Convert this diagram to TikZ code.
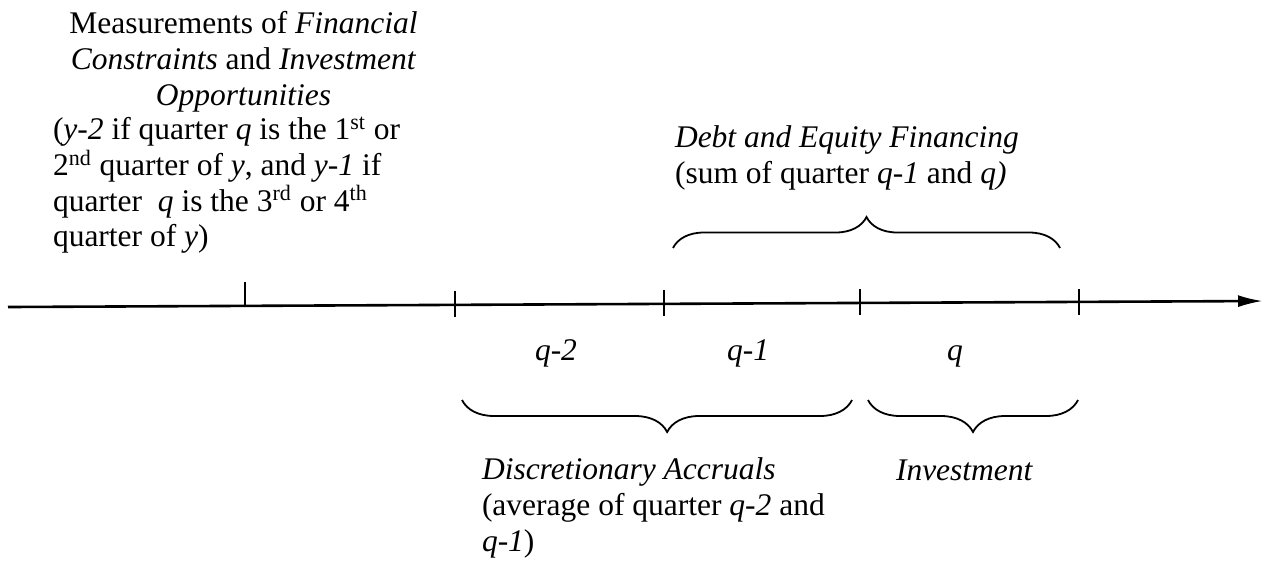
\documentclass[tikz,border=0pt]{standalone}
\usepackage{fontspec}
\setmainfont{Liberation Serif}
\usetikzlibrary{arrows.meta,decorations.pathreplacing}
\tikzset{
  txt/.style={font=\fontsize{15.75pt}{17.85pt}\selectfont, inner sep=0pt, outer sep=0pt},
  axisline/.style={line width=1.3pt, -{Latex[length=12.5pt,width=6pt]}},
  tickline/.style={line width=1.1pt},
  brc/.style={line width=0.9pt, decorate, decoration={brace, amplitude=15.5pt}},
  brcm/.style={line width=0.9pt, decorate, decoration={brace, amplitude=16pt, mirror, aspect=#1}},
  brcm/.default=0.5
}
\begin{document}
\begin{tikzpicture}[x=0.5pt,y=-0.5pt]
\useasboundingbox (0,0) rectangle (1272,564);
% axis
\coordinate (L) at (8,307);
\coordinate (R) at (1263,301);
\draw[axisline] (L) -- (R);
% ticks
\coordinate (t0a) at (245,282); \coordinate (t0b) at (245,306);
\coordinate (t1a) at (455,291); \coordinate (t1b) at (455,317);
\coordinate (t2a) at (664,290); \coordinate (t2b) at (664,316);
\coordinate (t3a) at (860,289); \coordinate (t3b) at (860,315);
\coordinate (t4a) at (1079,289); \coordinate (t4b) at (1079,315);
\draw[tickline] (t0a) -- (t0b);
\draw[tickline] (t1a) -- (t1b);
\draw[tickline] (t2a) -- (t2b);
\draw[tickline] (t3a) -- (t3b);
\draw[tickline] (t4a) -- (t4b);
% quarter labels
\node[txt, anchor=base west] (q2) at (535,360) {\textit{q-2}};
\node[txt, anchor=base west] (q1) at (727,360) {\textit{q-1}};
\node[txt, anchor=base west] (q0) at (947,360) {\textit{q}};
% braces
\coordinate (b1a) at (673,248); \coordinate (b1b) at (1060,248);
\draw[brc] (b1a) -- (b1b);
\coordinate (b2a) at (462,400); \coordinate (b2b) at (852,400);
\draw[brcm=0.526] (b2a) -- (b2b);
\coordinate (b3a) at (868,400); \coordinate (b3b) at (1078,400);
\draw[brcm] (b3a) -- (b3b);
% top-left text
\node[txt, align=center, anchor=north] (meas) at (243.5,11.5)
  {Measurements of \textit{Financial}\\ \textit{Constraints} and \textit{Investment}\\ \textit{Opportunities}};
\node[txt, align=left, anchor=north west] (measnote) at (53,117)
  {(\textit{y-2} if quarter \textit{q} is the 1\textsuperscript{st} or\\
   2\textsuperscript{nd} quarter of \textit{y}, and \textit{y-1} if\\
   quarter~ \textit{q} is the 3\textsuperscript{rd} or 4\textsuperscript{th}\\
   quarter of \textit{y})};
% debt
\node[txt, align=left, anchor=north west] (debt) at (675,126)
  {\textit{Debt and Equity Financing}\\ (sum of quarter \textit{q-1} and \textit{q)}};
% accruals
\node[txt, align=left, anchor=north west] (accr) at (482,458)
  {\textit{Discretionary Accruals}\\ (average of quarter \textit{q-2} and\\ \textit{q-1})};
% investment
\node[txt, anchor=base west] (inv) at (896,480) {\textit{Investment}};
\end{tikzpicture}
\end{document}
